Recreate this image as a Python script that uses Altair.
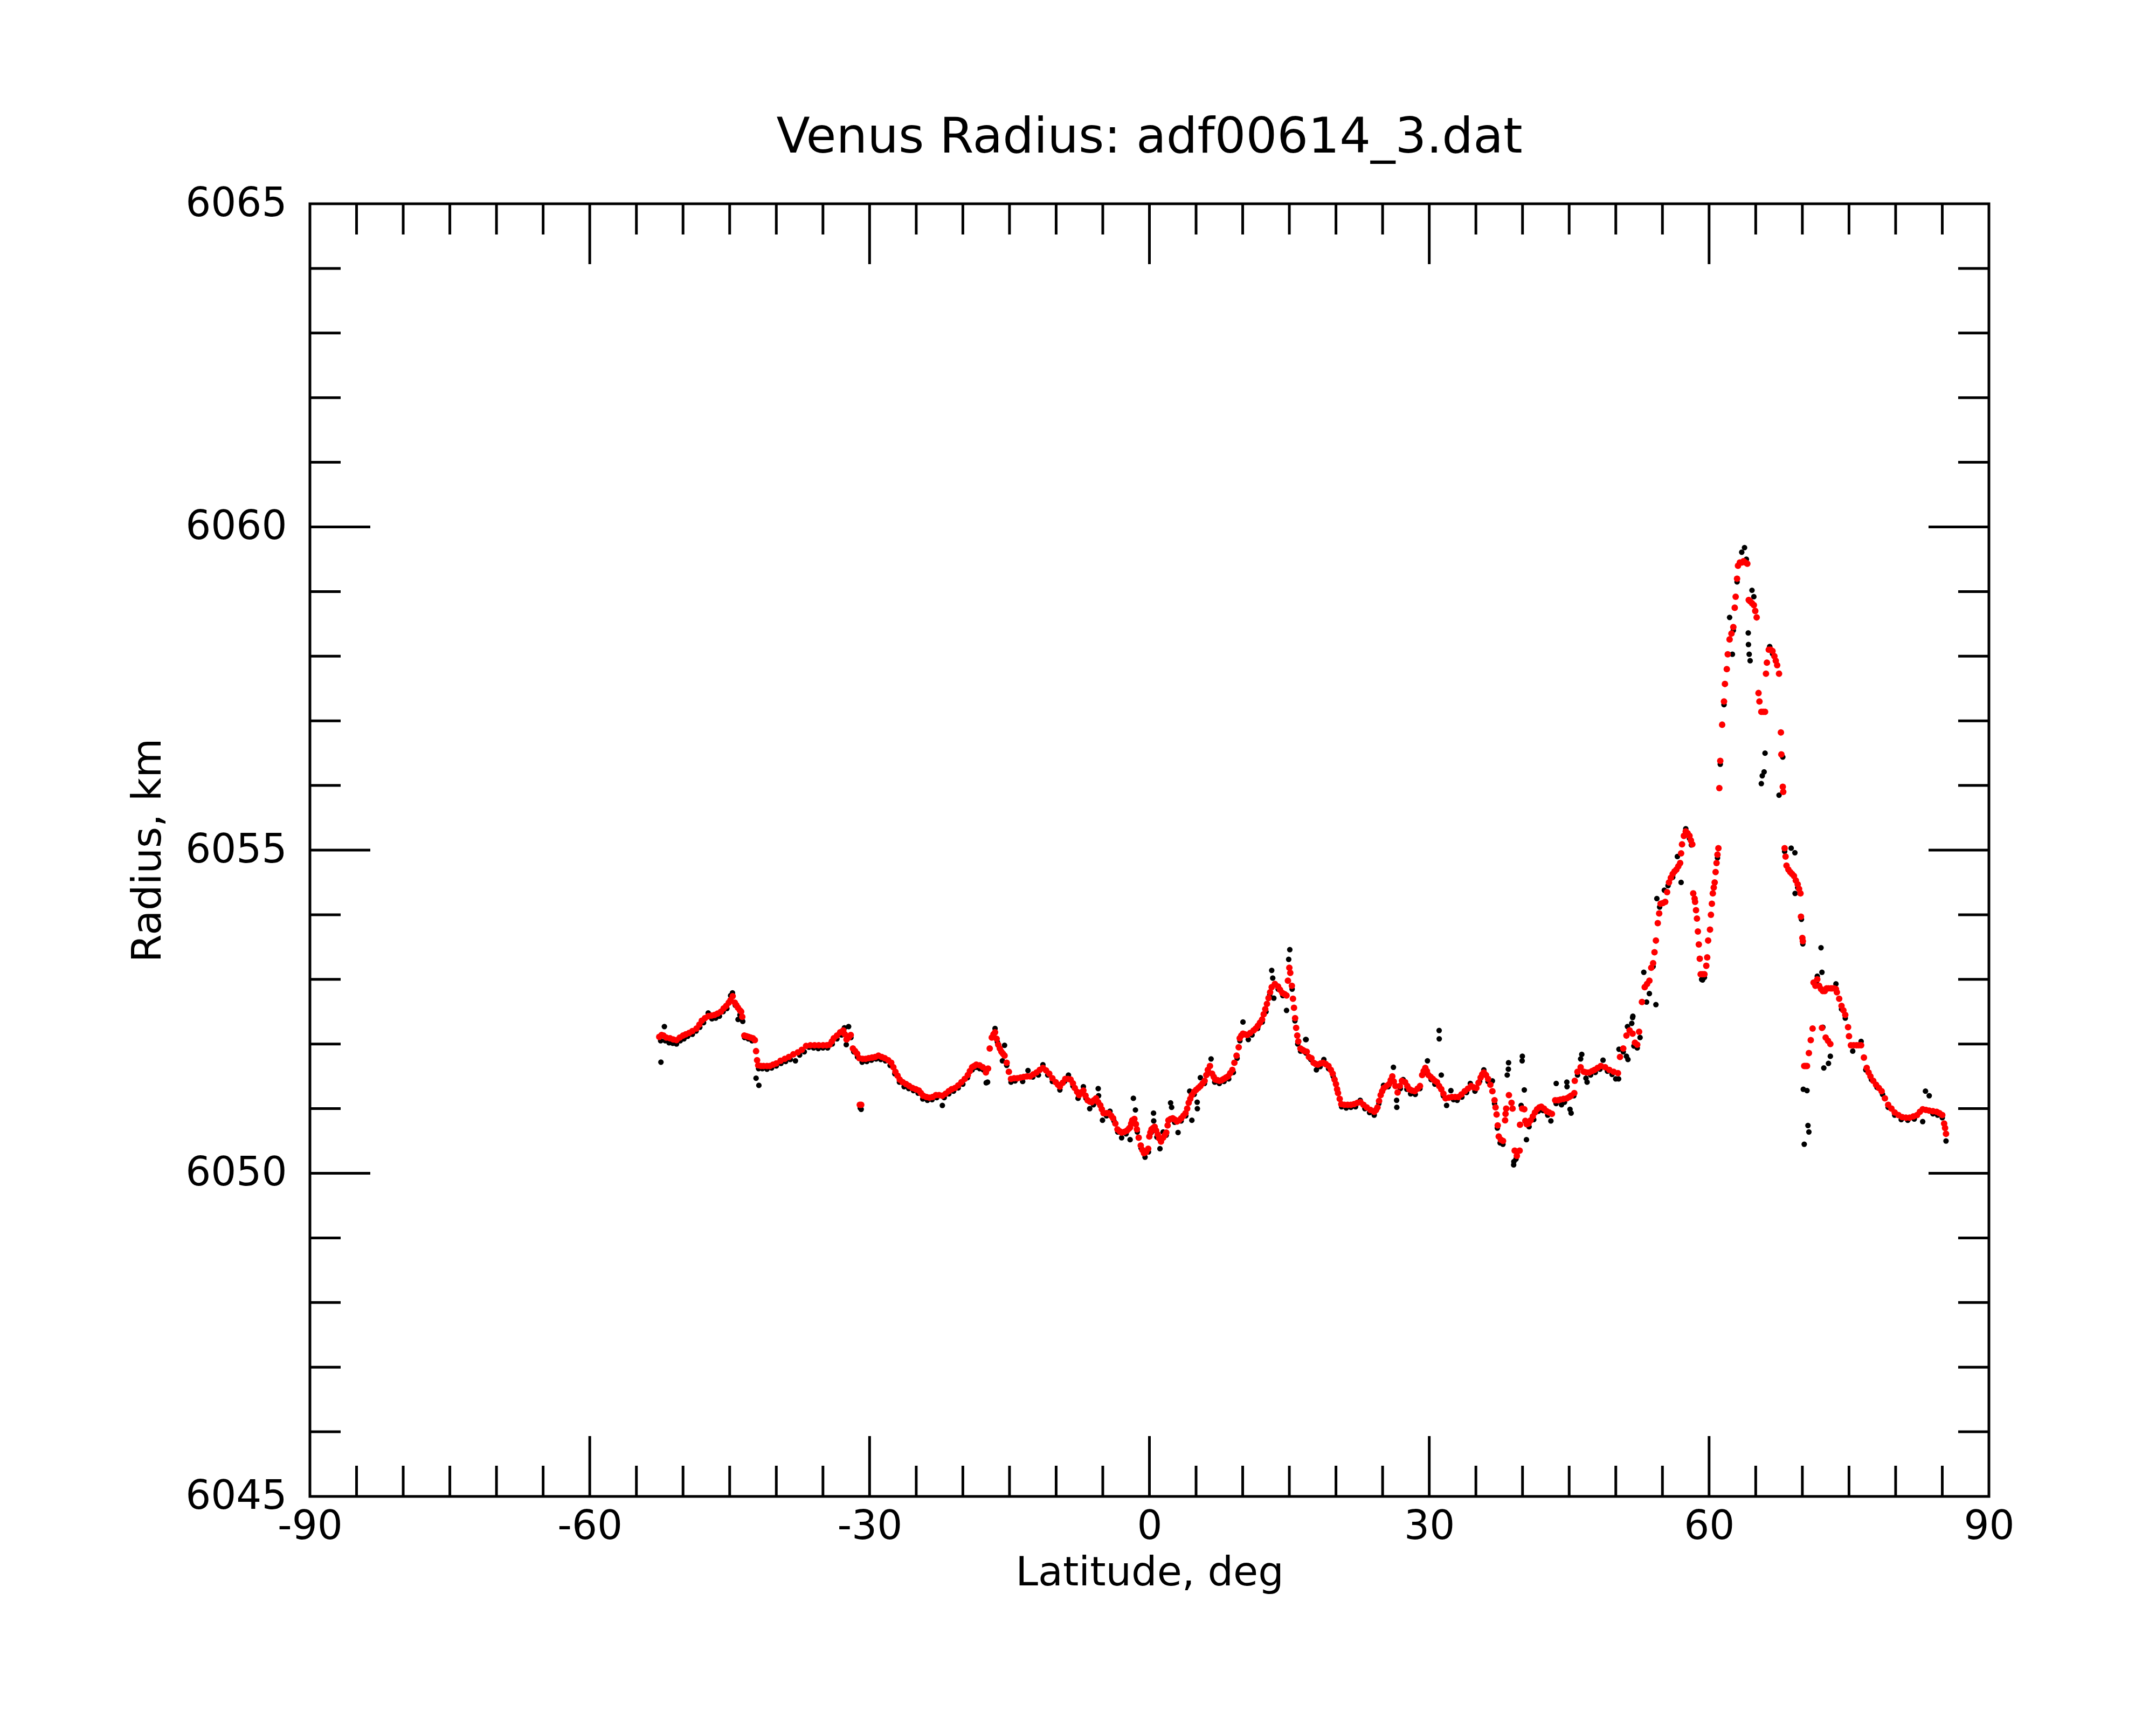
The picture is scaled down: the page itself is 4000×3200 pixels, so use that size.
import altair as alt
import pandas as pd

# ---------------- data ----------------
# smoothed radius (red), (latitude deg, radius km)
red_pts = [
    (-52.55, 6052.11), (-52.3, 6052.14), (-52.1, 6052.13), (-51.8, 6052.10), (-51.4, 6052.09),
    (-51.05, 6052.07), (-50.7, 6052.06), (-50.35, 6052.10), (-50.0, 6052.13), (-49.7, 6052.15),
    (-49.36, 6052.17), (-49.0, 6052.20), (-48.56, 6052.24), (-48.25, 6052.30), (-47.99, 6052.36),
    (-47.65, 6052.40), (-47.3, 6052.43), (-46.95, 6052.44), (-46.62, 6052.45), (-46.3, 6052.47),
    (-45.94, 6052.50), (-45.65, 6052.55), (-45.37, 6052.59), (-45.1, 6052.64), (-44.91, 6052.68),
    (-44.68, 6052.74), (-44.45, 6052.64), (-44.28, 6052.60), (-44.11, 6052.56), (-43.9, 6052.52),
    (-43.77, 6052.50), (-43.65, 6052.42),
    (-43.43, 6052.13), (-43.2, 6052.12), (-42.97, 6052.11), (-42.75, 6052.10), (-42.51, 6052.09),
    (-42.3, 6052.06), (-42.17, 6051.89), (-42.06, 6051.75), (-41.94, 6051.67), (-41.65, 6051.66),
    (-41.37, 6051.66), (-41.0, 6051.66), (-40.69, 6051.66), (-40.35, 6051.68), (-40.0, 6051.70),
    (-39.55, 6051.74), (-39.09, 6051.77), (-38.65, 6051.80), (-38.18, 6051.84), (-37.7, 6051.87),
    (-37.27, 6051.91), (-36.81, 6051.97), (-36.35, 6051.98), (-35.9, 6051.98), (-35.45, 6051.98),
    (-34.98, 6051.98), (-34.6, 6051.98), (-34.3, 6051.99), (-34.05, 6052.04), (-33.84, 6052.09),
    (-33.5, 6052.13), (-33.16, 6052.18), (-32.82, 6052.21), (-32.65, 6052.15), (-32.47, 6052.07),
    (-32.25, 6052.10), (-32.02, 6052.14), (-31.79, 6051.93), (-31.55, 6051.89), (-31.33, 6051.85),
    (-31.1, 6051.78), (-31.05, 6051.06), (-30.9, 6051.06), (-30.75, 6051.77), (-30.42, 6051.77),
    (-30.1, 6051.78), (-29.74, 6051.79), (-29.4, 6051.80), (-29.05, 6051.82), (-28.7, 6051.80),
    (-28.37, 6051.78), (-28.0, 6051.75), (-27.68, 6051.71), (-27.45, 6051.64), (-27.23, 6051.57),
    (-27.0, 6051.51), (-26.77, 6051.45), (-26.45, 6051.41), (-26.09, 6051.38), (-25.75, 6051.35),
    (-25.4, 6051.32), (-25.05, 6051.30), (-24.72, 6051.28), (-24.5, 6051.24), (-24.26, 6051.20),
    (-23.9, 6051.18), (-23.58, 6051.17), (-23.25, 6051.18), (-22.89, 6051.21), (-22.55, 6051.21),
    (-22.21, 6051.20), (-21.85, 6051.23), (-21.52, 6051.27), (-21.2, 6051.30), (-20.84, 6051.32),
    (-20.5, 6051.36), (-20.15, 6051.41), (-19.8, 6051.46), (-19.47, 6051.52), (-19.25, 6051.58),
    (-19.01, 6051.64), (-18.78, 6051.66), (-18.56, 6051.68), (-18.2, 6051.67), (-17.87, 6051.64),
    (-17.53, 6051.56), (-17.3, 6051.62), (-17.12, 6051.93), (-16.9, 6052.10), (-16.72, 6052.15),
    (-16.55, 6052.18), (-16.38, 6052.08), (-16.21, 6051.99), (-16.04, 6051.93), (-15.87, 6051.88),
    (-15.7, 6051.85), (-15.53, 6051.82), (-15.3, 6051.71), (-15.07, 6051.57), (-14.84, 6051.46),
    (-14.5, 6051.47), (-14.16, 6051.47), (-13.82, 6051.48), (-13.47, 6051.49), (-13.13, 6051.50),
    (-12.79, 6051.50), (-12.45, 6051.53), (-12.1, 6051.56), (-11.76, 6051.60), (-11.42, 6051.63),
    (-11.08, 6051.59), (-10.74, 6051.54), (-10.4, 6051.47), (-10.05, 6051.41), (-9.8, 6051.37),
    (-9.6, 6051.34), (-9.3, 6051.40), (-9.02, 6051.46), (-8.73, 6051.46), (-8.45, 6051.45),
    (-8.2, 6051.39), (-8.0, 6051.32), (-7.75, 6051.26), (-7.54, 6051.21), (-7.3, 6051.25),
    (-7.08, 6051.28), (-6.85, 6051.20), (-6.63, 6051.13), (-6.4, 6051.11), (-6.17, 6051.10),
    (-5.95, 6051.13), (-5.72, 6051.16), (-5.5, 6051.10), (-5.26, 6051.05), (-5.1, 6050.99),
    (-4.92, 6050.93), (-4.62, 6050.93), (-4.35, 6050.93), (-4.1, 6050.89), (-3.89, 6050.85),
    (-3.65, 6050.77), (-3.43, 6050.68), (-3.2, 6050.65), (-2.98, 6050.63), (-2.7, 6050.64),
    (-2.41, 6050.66), (-2.2, 6050.69), (-2.07, 6050.71), (-1.95, 6050.77), (-1.84, 6050.82),
    (-1.61, 6050.84), (-1.45, 6050.76), (-1.34, 6050.68), (-1.15, 6050.55), (-0.93, 6050.43),
    (-0.75, 6050.36), (-0.58, 6050.31), (-0.35, 6050.33), (-0.13, 6050.38), (-0.01, 6050.57),
    (0.1, 6050.63), (0.22, 6050.68), (0.4, 6050.70), (0.56, 6050.72), (0.72, 6050.66),
    (0.9, 6050.60), (1.05, 6050.54), (1.24, 6050.49), (1.47, 6050.55), (1.65, 6050.59),
    (1.81, 6050.63), (1.95, 6050.74), (2.04, 6050.82), (2.27, 6050.84), (2.5, 6050.85),
    (2.72, 6050.83), (2.95, 6050.80), (3.18, 6050.82), (3.41, 6050.85), (3.64, 6050.89),
    (3.87, 6050.93), (4.05, 6051.00), (4.21, 6051.09), (4.38, 6051.15), (4.55, 6051.21),
    (4.78, 6051.26), (5.01, 6051.29), (5.24, 6051.32), (5.46, 6051.35), (5.7, 6051.39),
    (5.92, 6051.43), (6.1, 6051.52), (6.26, 6051.60), (6.49, 6051.66), (6.72, 6051.54),
    (6.9, 6051.49), (7.06, 6051.45), (7.3, 6051.44), (7.52, 6051.43), (7.75, 6051.44),
    (7.97, 6051.46), (8.2, 6051.48), (8.43, 6051.50), (8.66, 6051.55), (8.89, 6051.60),
    (9.11, 6051.71), (9.34, 6051.82), (9.57, 6051.95), (9.68, 6052.09), (9.85, 6052.13),
    (10.03, 6052.16), (10.25, 6052.15), (10.48, 6052.14), (10.8, 6052.17), (11.17, 6052.21),
    (11.4, 6052.24), (11.62, 6052.28), (11.85, 6052.33), (12.08, 6052.38), (12.25, 6052.46),
    (12.42, 6052.54), (12.6, 6052.62), (12.77, 6052.71), (12.94, 6052.80), (13.11, 6052.88),
    (13.45, 6052.93), (13.79, 6052.89), (14.0, 6052.84), (14.25, 6052.79), (14.5, 6052.77),
    (14.7, 6052.75), (14.85, 6052.98), (15.0, 6053.18), (15.1, 6053.10), (15.27, 6052.90),
    (15.39, 6052.70), (15.5, 6052.56), (15.62, 6052.40), (15.73, 6052.25), (15.85, 6052.13),
    (15.96, 6052.04), (16.19, 6051.93), (16.42, 6051.91), (16.64, 6051.89), (16.87, 6051.88),
    (17.1, 6051.80), (17.37, 6051.78), (17.6, 6051.71), (17.85, 6051.69), (18.06, 6051.68),
    (18.35, 6051.70), (18.63, 6051.71), (18.9, 6051.69), (19.2, 6051.66), (19.45, 6051.60),
    (19.65, 6051.54), (19.85, 6051.45), (20.0, 6051.38), (20.12, 6051.30), (20.22, 6051.24),
    (20.4, 6051.15), (20.57, 6051.07), (20.9, 6051.06), (21.25, 6051.06), (21.6, 6051.06),
    (21.94, 6051.07), (22.3, 6051.09), (22.62, 6051.10), (22.95, 6051.06), (23.3, 6051.02),
    (23.7, 6050.98), (24.1, 6050.95), (24.3, 6050.98), (24.45, 6051.02), (24.62, 6051.12),
    (24.79, 6051.21), (24.95, 6051.27), (25.13, 6051.32), (25.4, 6051.35), (25.7, 6051.38),
    (25.87, 6051.44), (26.04, 6051.50), (26.2, 6051.42), (26.38, 6051.35), (26.61, 6051.25),
    (26.85, 6051.35), (27.07, 6051.43), (27.41, 6051.41), (27.65, 6051.35), (27.87, 6051.30),
    (28.15, 6051.28), (28.44, 6051.27), (28.75, 6051.31), (29.01, 6051.35), (29.24, 6051.52),
    (29.4, 6051.58), (29.58, 6051.63), (29.75, 6051.58), (29.92, 6051.52), (30.15, 6051.49),
    (30.38, 6051.46), (30.6, 6051.43), (30.83, 6051.41), (31.06, 6051.35), (31.29, 6051.30),
    (31.52, 6051.23), (31.75, 6051.16), (32.1, 6051.17), (32.43, 6051.18), (32.78, 6051.18),
    (33.12, 6051.18), (33.45, 6051.22), (33.8, 6051.27), (34.15, 6051.31), (34.48, 6051.35),
    (34.75, 6051.33), (35.05, 6051.32), (35.28, 6051.40), (35.51, 6051.48), (35.68, 6051.53),
    (35.85, 6051.56), (36.08, 6051.52), (36.31, 6051.46), (36.55, 6051.37), (36.77, 6051.27),
    (37.0, 6051.13), (37.11, 6051.02), (37.22, 6050.91), (37.34, 6050.74), (37.45, 6050.57),
    (37.68, 6050.52), (37.91, 6050.50), (38.13, 6050.82), (38.18, 6050.92), (38.25, 6051.00),
    (38.54, 6051.21), (38.82, 6051.09), (38.93, 6051.00), (39.16, 6050.35), (39.39, 6050.27),
    (39.69, 6050.35), (39.73, 6050.75), (39.96, 6051.00), (40.19, 6050.99), (40.3, 6050.81),
    (40.45, 6050.76), (40.64, 6050.77), (40.87, 6050.82), (41.1, 6050.88), (41.33, 6050.94),
    (41.56, 6050.99), (41.8, 6051.02), (42.01, 6051.03), (42.3, 6051.00), (42.58, 6050.96),
    (42.85, 6050.94), (43.15, 6050.92), (43.5, 6051.13), (43.8, 6051.13), (44.07, 6051.14),
    (44.4, 6051.15), (44.75, 6051.16), (45.0, 6051.18), (45.21, 6051.20), (45.55, 6051.24),
    (45.6, 6051.43), (45.89, 6051.57), (46.23, 6051.64), (46.58, 6051.57), (46.85, 6051.56),
    (47.15, 6051.56), (47.45, 6051.58), (47.72, 6051.60), (48.05, 6051.63), (48.4, 6051.66),
    (48.86, 6051.64), (49.31, 6051.60), (49.77, 6051.57), (50.23, 6051.55), (50.45, 6051.80),
    (50.8, 6051.93), (51.14, 6052.13), (51.48, 6052.21), (51.8, 6052.16), (52.05, 6052.02),
    (52.3, 6051.99), (52.5, 6052.19), (52.8, 6052.65), (53.1, 6052.88), (53.35, 6052.93),
    (53.6, 6052.98), (53.8, 6053.18), (54.0, 6053.25), (54.15, 6053.42), (54.3, 6053.60),
    (54.5, 6053.87), (54.65, 6054.02), (54.8, 6054.17), (55.05, 6054.18), (55.3, 6054.20),
    (55.5, 6054.35), (55.7, 6054.50), (55.9, 6054.57), (56.1, 6054.63), (56.3, 6054.67),
    (56.5, 6054.70), (56.7, 6054.75), (56.9, 6054.80), (57.0, 6054.95), (57.1, 6055.09),
    (57.3, 6055.22), (57.5, 6055.29), (57.7, 6055.26), (57.9, 6055.22), (58.05, 6055.15),
    (58.2, 6055.09), (58.3, 6054.33), (58.45, 6054.25), (58.5, 6054.20), (58.6, 6054.07),
    (58.7, 6053.94), (58.8, 6053.74), (58.9, 6053.54), (59.0, 6053.32), (59.1, 6053.08),
    (59.3, 6053.08), (59.5, 6053.08), (59.7, 6053.21), (59.8, 6053.34), (59.9, 6053.60),
    (60.1, 6053.77), (60.2, 6054.00), (60.3, 6054.17), (60.4, 6054.33), (60.5, 6054.42),
    (60.6, 6054.50), (60.7, 6054.66), (60.8, 6054.80), (60.9, 6054.93), (61.0, 6055.03),
    (61.1, 6055.96), (61.2, 6056.38), (61.4, 6056.94), (61.6, 6057.30), (61.7, 6057.57),
    (61.9, 6057.80), (62.0, 6058.03), (62.2, 6058.26), (62.4, 6058.35), (62.6, 6058.45),
    (62.75, 6058.75), (62.85, 6058.92), (63.0, 6059.20), (63.1, 6059.40), (63.3, 6059.45),
    (63.5, 6059.45), (63.7, 6059.47), (63.9, 6059.45), (64.1, 6059.43), (64.25, 6058.87),
    (64.4, 6058.85), (64.6, 6058.82), (64.8, 6058.79), (64.95, 6058.70), (65.1, 6058.60),
    (65.3, 6057.43), (65.4, 6057.30), (65.6, 6057.14), (65.8, 6057.14), (66.0, 6057.14),
    (66.1, 6057.73), (66.2, 6057.90), (66.4, 6058.10), (66.6, 6058.10), (66.8, 6058.08),
    (67.0, 6058.00), (67.15, 6057.93), (67.3, 6057.86), (67.5, 6057.73), (67.7, 6056.82),
    (67.75, 6056.48), (67.9, 6055.98), (67.95, 6055.90), (68.1, 6055.03), (68.2, 6054.90),
    (68.3, 6054.76), (68.5, 6054.70), (68.7, 6054.66), (68.9, 6054.63), (69.1, 6054.60),
    (69.3, 6054.53), (69.5, 6054.47), (69.65, 6054.40), (69.8, 6054.33), (69.85, 6053.97),
    (70.0, 6053.64), (70.05, 6053.59), (70.2, 6051.66), (70.35, 6051.66), (70.5, 6051.66),
    (70.7, 6051.86), (70.9, 6052.06), (71.1, 6052.24), (71.2, 6052.95), (71.4, 6052.90),
    (71.6, 6053.00), (71.8, 6052.90), (72.0, 6052.85), (72.1, 6052.25), (72.2, 6052.82),
    (72.4, 6052.82), (72.5, 6052.10), (72.6, 6052.86), (72.75, 6052.05), (72.8, 6052.86),
    (73.0, 6052.00), (73.05, 6052.86), (73.2, 6052.86), (73.4, 6052.86), (73.6, 6052.85),
    (73.7, 6052.80), (73.95, 6052.70), (74.2, 6052.59), (74.4, 6052.52), (74.6, 6052.45),
    (74.9, 6052.26), (75.0, 6052.12), (75.2, 6051.98), (75.5, 6051.98), (75.8, 6051.98),
    (76.05, 6051.98), (76.3, 6051.98), (76.6, 6051.79), (76.9, 6051.63), (77.1, 6051.56),
    (77.3, 6051.50), (77.6, 6051.43), (77.9, 6051.37), (78.2, 6051.32), (78.5, 6051.27),
    (78.85, 6051.16), (79.2, 6051.06), (79.55, 6051.00), (79.9, 6050.94), (80.3, 6050.90),
    (80.7, 6050.87), (81.1, 6050.86), (81.5, 6050.86), (81.9, 6050.88), (82.3, 6050.90),
    (82.6, 6050.95), (82.9, 6050.99), (83.25, 6050.98), (83.6, 6050.97), (84.0, 6050.96),
    (84.4, 6050.95), (84.7, 6050.93), (85.0, 6050.90), (85.2, 6050.77), (85.3, 6050.70),
    (85.4, 6050.61),
]

# raw radius samples (black), (latitude deg, radius km)
black_pts = [
    (-52.4, 6052.05), (-52.37, 6051.72), (-52.0, 6052.27), (-51.9, 6052.05), (-51.5, 6052.02),
    (-51.1, 6052.01), (-50.7, 6052.00), (-50.3, 6052.05), (-49.9, 6052.08), (-49.5, 6052.12),
    (-49.0, 6052.15), (-48.6, 6052.20), (-48.2, 6052.26), (-47.8, 6052.33), (-47.3, 6052.48),
    (-46.9, 6052.39), (-46.5, 6052.40), (-46.1, 6052.43), (-45.7, 6052.50), (-45.3, 6052.55),
    (-44.9, 6052.75), (-44.7, 6052.79), (-44.4, 6052.60), (-44.1, 6052.38), (-43.9, 6052.45),
    (-43.7, 6052.43), (-43.6, 6052.35), (-43.4, 6052.10), (-43.0, 6052.08), (-42.6, 6052.05),
    (-42.17, 6051.47), (-41.87, 6051.36), (-41.9, 6051.62), (-41.5, 6051.62), (-41.0, 6051.61),
    (-40.5, 6051.63), (-40.0, 6051.66), (-39.5, 6051.70), (-39.0, 6051.73), (-38.5, 6051.76),
    (-37.95, 6051.74), (-37.5, 6051.83), (-37.0, 6051.88), (-36.5, 6051.95), (-36.0, 6051.94),
    (-35.5, 6051.93), (-35.0, 6051.94), (-34.5, 6051.94), (-34.0, 6052.00), (-33.5, 6052.08),
    (-33.0, 6052.14), (-32.7, 6052.25), (-32.5, 6051.99), (-32.25, 6052.27), (-32.0, 6052.10),
    (-31.7, 6051.88), (-31.3, 6051.80), (-31.0, 6051.01), (-30.9, 6050.99), (-30.8, 6051.72),
    (-30.3, 6051.73), (-29.8, 6051.75), (-29.3, 6051.77), (-28.8, 6051.76), (-28.3, 6051.74),
    (-27.8, 6051.67), (-27.3, 6051.54), (-26.8, 6051.41), (-26.3, 6051.34), (-25.8, 6051.31),
    (-25.3, 6051.28), (-24.8, 6051.24), (-24.3, 6051.15), (-23.8, 6051.13), (-23.3, 6051.14),
    (-22.8, 6051.17), (-22.2, 6051.05), (-22.0, 6051.17), (-21.5, 6051.23), (-21.0, 6051.27),
    (-20.5, 6051.32), (-20.0, 6051.38), (-19.5, 6051.48), (-19.0, 6051.60), (-18.6, 6051.64),
    (-18.2, 6051.62), (-17.8, 6051.60), (-17.5, 6051.40), (-17.35, 6051.41),
    (-16.55, 6052.24), (-16.3, 6052.03), (-15.76, 6051.74), (-15.53, 6051.98), (-15.3, 6051.67),
    (-14.84, 6051.41), (-14.4, 6051.43), (-13.59, 6051.42), (-13.02, 6051.59), (-12.5, 6051.49),
    (-11.9, 6051.52), (-11.42, 6051.68), (-10.9, 6051.52), (-10.4, 6051.42), (-9.6, 6051.29),
    (-9.1, 6051.42), (-8.68, 6051.52), (-8.2, 6051.35), (-7.65, 6051.16), (-7.08, 6051.34),
    (-6.8, 6051.16), (-6.4, 6051.00), (-6.0, 6051.06), (-5.49, 6051.31), (-5.45, 6051.20),
    (-5.03, 6050.82), (-4.6, 6050.89), (-4.23, 6050.96), (-3.8, 6050.81), (-3.4, 6050.64),
    (-2.98, 6050.55), (-2.5, 6050.61), (-2.07, 6050.52), (-1.72, 6051.16), (-1.5, 6050.98),
    (-1.3, 6050.64), (-0.9, 6050.39), (-0.47, 6050.25), (-0.1, 6050.33), (0.2, 6050.63),
    (0.44, 6050.93), (0.46, 6050.81), (0.8, 6050.56), (1.13, 6050.38), (1.47, 6050.64),
    (1.8, 6050.59), (2.27, 6051.09), (2.38, 6051.02), (2.7, 6050.79), (3.07, 6050.63),
    (3.4, 6050.81), (3.9, 6050.89), (4.32, 6051.27), (4.55, 6050.82), (4.8, 6051.22),
    (5.12, 6051.10), (5.14, 6051.00), (5.46, 6051.48), (5.9, 6051.39), (6.3, 6051.56),
    (6.61, 6051.77), (7.0, 6051.41), (7.5, 6051.39), (8.0, 6051.42), (8.5, 6051.46),
    (9.0, 6051.56), (9.4, 6051.78), (9.7, 6052.05), (10.03, 6052.34), (10.6, 6052.07),
    (11.0, 6052.14), (11.6, 6052.24), (12.1, 6052.34), (12.5, 6052.50), (12.9, 6052.76),
    (13.11, 6053.14), (13.22, 6053.02), (13.34, 6052.71), (13.8, 6052.85), (14.3, 6052.75),
    (14.7, 6052.52), (14.93, 6053.31), (15.05, 6053.46), (15.3, 6052.85), (15.6, 6052.36),
    (15.9, 6052.00), (16.2, 6051.89), (16.75, 6052.07), (16.78, 6051.86), (16.8, 6052.07),
    (17.3, 6051.76), (17.9, 6051.60), (18.3, 6051.65), (18.7, 6051.76), (19.2, 6051.62),
    (19.7, 6051.50), (20.1, 6051.30), (20.6, 6051.03), (21.1, 6051.01), (21.6, 6051.02),
    (22.1, 6051.03), (22.6, 6051.13), (23.1, 6051.00), (23.6, 6050.94), (24.1, 6050.90),
    (24.6, 6051.08), (25.1, 6051.36), (25.6, 6051.34), (26.16, 6051.64), (26.5, 6051.13),
    (26.52, 6051.02), (26.9, 6051.31), (27.2, 6051.45), (27.6, 6051.30), (28.0, 6051.23),
    (28.5, 6051.22), (29.0, 6051.31), (29.4, 6051.55), (29.81, 6051.74), (30.2, 6051.45),
    (30.6, 6051.38), (31.06, 6052.21), (31.07, 6052.08), (31.29, 6051.52), (31.5, 6051.20),
    (31.86, 6051.05), (32.32, 6051.28), (32.6, 6051.14), (33.0, 6051.13), (33.5, 6051.18),
    (34.0, 6051.25), (34.4, 6051.39), (34.9, 6051.27), (35.4, 6051.42), (35.85, 6051.60),
    (36.3, 6051.42), (36.77, 6051.43), (37.0, 6051.08), (37.3, 6050.70), (37.6, 6050.47),
    (37.9, 6050.45), (38.36, 6051.52), (38.48, 6051.61), (38.5, 6051.71), (39.05, 6050.13),
    (39.07, 6050.18), (39.3, 6050.22), (39.85, 6051.05), (39.96, 6051.74), (39.98, 6051.81),
    (40.19, 6051.29), (40.42, 6050.52), (40.7, 6050.72), (41.2, 6050.83), (41.7, 6050.96),
    (42.2, 6050.97), (42.7, 6050.90), (43.04, 6050.81), (43.61, 6051.39), (43.6, 6051.08),
    (44.18, 6051.06), (44.5, 6051.10), (44.75, 6051.41), (44.77, 6051.34), (45.09, 6050.99),
    (45.21, 6050.93), (45.5, 6051.20), (45.9, 6051.52), (46.23, 6051.77), (46.35, 6051.84),
    (46.8, 6051.47), (46.92, 6051.41), (47.3, 6051.52), (47.8, 6051.56), (48.3, 6051.61),
    (48.63, 6051.75), (49.1, 6051.58), (49.6, 6051.53), (49.99, 6051.46), (50.34, 6051.92),
    (50.3, 6051.46), (50.8, 6051.88), (51.14, 6051.81), (51.25, 6052.27), (51.3, 6051.76),
    (51.71, 6052.32), (51.83, 6052.43), (51.8, 6052.41), (51.94, 6051.97), (52.3, 6051.94),
    (52.6, 6052.10), (53.0, 6053.11), (53.3, 6052.65), (53.6, 6052.78), (54.0, 6053.20),
    (54.3, 6052.61), (54.4, 6054.25), (54.7, 6054.12), (55.2, 6054.38), (55.6, 6054.45),
    (56.1, 6054.58), (56.6, 6054.90), (57.0, 6054.50), (57.5, 6055.33), (57.9, 6055.18),
    (58.1, 6055.08), (59.2, 6053.00), (59.3, 6052.99), (59.5, 6053.03), (60.9, 6054.88),
    (61.2, 6056.33), (61.6, 6057.25), (62.2, 6058.60), (62.5, 6058.03), (62.6, 6058.40),
    (63.0, 6059.15), (63.5, 6059.61), (63.8, 6059.68), (64.0, 6059.50), (64.2, 6058.36),
    (64.22, 6058.18), (64.3, 6058.03), (64.4, 6057.93), (64.6, 6059.02), (64.8, 6058.92),
    (65.6, 6056.03), (65.7, 6056.15), (65.9, 6056.21), (66.0, 6056.50), (66.5, 6058.15),
    (66.8, 6058.04), (67.5, 6055.85), (67.9, 6056.44), (68.1, 6054.98), (68.8, 6055.03),
    (69.2, 6054.96), (69.22, 6054.33), (69.5, 6054.42), (69.9, 6053.93), (70.05, 6053.55),
    (70.1, 6051.30), (70.2, 6050.45), (70.5, 6051.28), (70.6, 6050.74), (70.7, 6050.64),
    (71.5, 6052.95), (71.6, 6053.05), (72.0, 6053.49), (72.1, 6053.11), (72.2, 6052.26),
    (72.3, 6051.63), (72.8, 6051.70), (73.0, 6051.81), (73.6, 6052.93), (74.2, 6052.54),
    (74.6, 6052.40), (75.4, 6051.89), (76.3, 6052.04), (76.8, 6051.60), (77.4, 6051.45),
    (78.0, 6051.33), (78.6, 6051.22), (79.2, 6051.02), (79.9, 6050.90), (80.6, 6050.83),
    (81.3, 6050.82), (82.0, 6050.84), (82.9, 6050.80), (83.2, 6051.27), (83.6, 6051.20),
    (84.0, 6050.92), (84.5, 6050.90), (85.0, 6050.86), (85.4, 6050.50),
]

# axis tick values
x_label_vals = [-90, -60, -30, 0, 30, 60, 90]
y_label_vals = [6045, 6050, 6055, 6060, 6065]
x_major_ticks = [-60, -30, 0, 30, 60]
x_minor_ticks = [-85, -80, -75, -70, -65, -55, -50, -45, -40, -35, -25, -20, -15, -10, -5,
                 5, 10, 15, 20, 25, 35, 40, 45, 50, 55, 65, 70, 75, 80, 85]
y_major_ticks = [6050, 6055, 6060]
y_minor_ticks = [6046, 6047, 6048, 6049, 6051, 6052, 6053, 6054, 6056, 6057, 6058, 6059,
                 6061, 6062, 6063, 6064]

# ---------------- chart ----------------
W, H = 3115, 2398
MINOR, MAJOR = 57, 112
FONT = "DejaVu Sans"

red_df = pd.DataFrame(red_pts, columns=["lat", "rad"])
blk_df = pd.DataFrame(black_pts, columns=["lat", "rad"])

xscale = alt.Scale(domain=[-90, 90], nice=False, zero=False)
yscale = alt.Scale(domain=[6045, 6065], nice=False, zero=False)

x_axis = alt.Axis(values=x_label_vals, ticks=False, domain=False, grid=False,
                  labelFont=FONT, labelFontSize=74, labelColor="black", labelPadding=20,
                  labelFlush=False, labelOverlap=False, labelLimit=0,
                  labelExpr="'' + datum.value",
                  title="Latitude, deg", titleFont=FONT, titleFontSize=75,
                  titleFontWeight="normal", titleColor="black", titleLimit=0,
                  titleBaseline="alphabetic", titleY=164)
y_axis = alt.Axis(values=y_label_vals, ticks=False, domain=False, grid=False,
                  labelFont=FONT, labelFontSize=74, labelColor="black", labelPadding=43,
                  labelFlush=False, labelOverlap=False, labelLimit=0,
                  labelExpr="'' + datum.value",
                  title="Radius, km", titleFont=FONT, titleFontSize=75,
                  titleFontWeight="normal", titleColor="black", titleAngle=270,
                  titleAlign="center", titleBaseline="alphabetic", titleLimit=0,
                  titleX=-278, titleY=H / 2)

X = alt.X("lat:Q", scale=xscale, axis=x_axis)
Y = alt.Y("rad:Q", scale=yscale, axis=y_axis)

black_layer = alt.Chart(blk_df).mark_circle(size=105, color="black", opacity=1).encode(x=X, y=Y)
red_layer = alt.Chart(red_df).mark_circle(size=145, color="#ff0000", opacity=1).encode(x=X, y=Y)


def xticks(vals, length):
    df = pd.DataFrame({"lat": vals})
    base = alt.Chart(df).mark_rule(color="black", strokeWidth=5)
    bottom = base.encode(x=X, y=alt.value(H), y2=alt.value(H - length))
    top = base.encode(x=X, y=alt.value(0), y2=alt.value(length))
    return [bottom, top]


def yticks(vals, length):
    df = pd.DataFrame({"rad": vals})
    base = alt.Chart(df).mark_rule(color="black", strokeWidth=5)
    left = base.encode(y=Y, x=alt.value(0), x2=alt.value(length))
    right = base.encode(y=Y, x=alt.value(W), x2=alt.value(W - length))
    return [left, right]


tick_layers = (xticks(x_minor_ticks, MINOR) + xticks(x_major_ticks, MAJOR)
               + yticks(y_minor_ticks, MINOR) + yticks(y_major_ticks, MAJOR))

chart = alt.layer(black_layer, red_layer, *tick_layers).properties(
    width=W, height=H,
    background="white",
    title=alt.TitleParams("Venus Radius: adf00614_3.dat", font=FONT, fontSize=91,
                          fontWeight="normal", color="black", anchor="middle",
                          baseline="alphabetic", offset=-33),
    autosize=alt.AutoSizeParams(type="none"),
    padding={"left": 567, "top": 370, "right": 302, "bottom": 416},
).configure_view(stroke="black", strokeWidth=5)

chart.save("out.html", embed_options={"renderer": "svg", "actions": False})
